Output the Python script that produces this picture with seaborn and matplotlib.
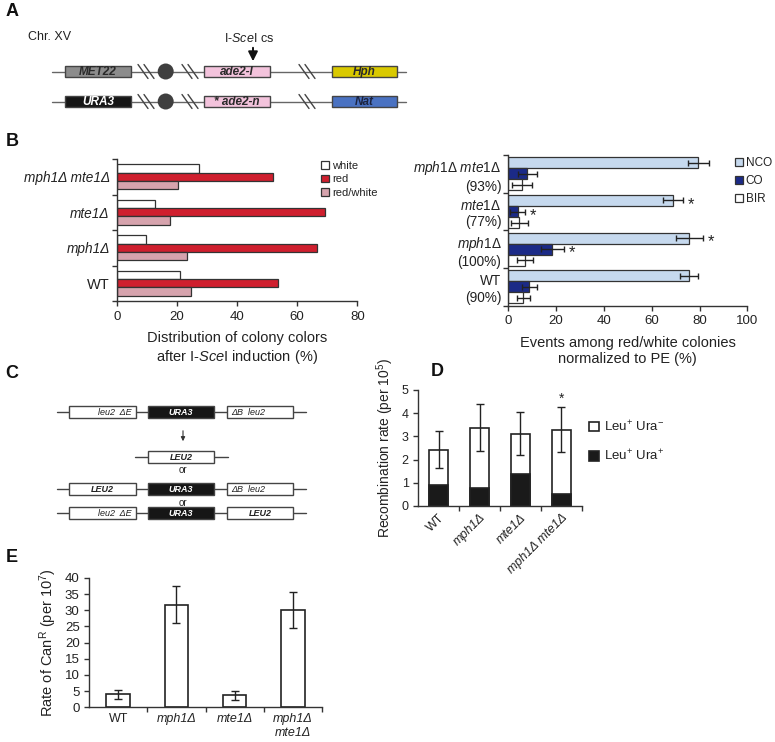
import numpy as np
import pandas as pd
import matplotlib
matplotlib.use("Agg")
import matplotlib.pyplot as plt
import seaborn as sns
from matplotlib.patches import Patch, Rectangle, Circle

# --- panel B (left): colony colours after I-SceI induction (%) ---
b_genotypes = ["mph1Δ mte1Δ", "mte1Δ", "mph1Δ", "WT"]
b_colour_names = ["white", "red", "red/white"]
b_white = [27.2, 12.9, 9.9, 21.1]
b_red = [52.1, 69.3, 66.5, 53.7]
b_redwhite = [20.3, 17.8, 23.4, 24.7]

# --- panel B (right): events among red/white colonies (%) ---
pe_values = ["93%", "77%", "100%", "90%"]
event_names = ["NCO", "CO", "BIR"]
nco = [79.5, 68.9, 75.7, 75.7]
nco_err = [4.5, 4.3, 5.6, 3.8]
co = [8.0, 3.9, 18.4, 8.8]
co_err = [4.0, 3.2, 4.7, 3.2]
bir = [5.9, 4.6, 7.1, 6.3]
bir_err = [4.2, 3.5, 3.4, 2.6]
event_stars = [("NCO", "mte1Δ"), ("CO", "mte1Δ"), ("NCO", "mph1Δ"), ("CO", "mph1Δ")]

# --- panel D: recombination rate (per 10^5) ---
d_genotypes = ["WT", "mph1Δ", "mte1Δ", "mph1Δ mte1Δ"]
rec_total = [2.42, 3.38, 3.12, 3.28]
rec_total_err = [0.80, 1.03, 0.92, 0.97]
rec_ura_plus = [0.90, 0.76, 1.36, 0.52]
d_star = "mph1Δ mte1Δ"

# --- panel E: rate of CanR (per 10^7) ---
e_genotypes = ["WT", "mph1Δ", "mte1Δ", "mph1Δ\nmte1Δ"]
can_rate = [4.0, 31.8, 3.7, 30.2]
can_err = [1.4, 5.8, 1.3, 5.6]

INK = "#222222"
EDGE = "#333333"

sns.set_style("ticks")
plt.rcParams["font.family"] = ["Liberation Sans", "DejaVu Sans"]
plt.rcParams["mathtext.fontset"] = "custom"
plt.rcParams["mathtext.rm"] = "Liberation Sans"
plt.rcParams["mathtext.it"] = "Liberation Sans:italic"
plt.rcParams["mathtext.bf"] = "Liberation Sans:bold"
plt.rcParams["text.color"] = INK
plt.rcParams["axes.labelcolor"] = INK
plt.rcParams["axes.edgecolor"] = EDGE
plt.rcParams["axes.linewidth"] = 1.0
plt.rcParams["xtick.color"] = EDGE
plt.rcParams["ytick.color"] = EDGE
plt.rcParams["xtick.labelcolor"] = INK
plt.rcParams["ytick.labelcolor"] = INK

W, H = 775, 742
fig = plt.figure(figsize=(W / 100, H / 100), dpi=100)


def px_axes(x0, y0, x1, y1):
    return fig.add_axes([x0 / W, 1 - y1 / H, (x1 - x0) / W, (y1 - y0) / H])


def style_axes(ax):
    sns.despine(ax=ax)
    ax.tick_params(which="major", length=3.5, width=1.0, direction="out")


def cat_ticks(ax, axis, labels, **kw):
    n = len(labels)
    if axis == "y":
        ax.set_yticks(np.arange(-0.5, n), [""] * (n + 1))
        ax.set_yticks(np.arange(n), labels, minor=True, **kw)
        ax.tick_params(axis="y", which="minor", length=0, pad=5)
    else:
        ax.set_xticks(np.arange(0.5, n), [""] * n)
        ax.set_xticks(np.arange(n), labels, minor=True, **kw)
        ax.tick_params(axis="x", which="minor", length=0, pad=4)


# ---------------- schematic layer (panels A and C, panel letters) -------------
dia = fig.add_axes([0, 0, 1, 1])
dia.set_xlim(0, W)
dia.set_ylim(H, 0)
dia.axis("off")


def gene(x0, x1, y, label, fc, tc=INK, h=11, size=8, weight="bold", ha="center"):
    dia.add_patch(Rectangle((x0, y - h / 2), x1 - x0, h, fc=fc, ec="#444444", lw=1, zorder=3))
    tx = {"center": (x0 + x1) / 2, "right": x1 - 4, "left": x0 + 4}[ha]
    dia.text(tx, y + 0.5, label, ha=ha, va="center", fontsize=size, fontstyle="italic",
             fontweight=weight, color=tc, zorder=4)


def brk(x, y):
    for dx in (-3, 3):
        dia.plot([x + dx - 5, x + dx + 5], [y - 7, y + 7], color="#444444", lw=1, zorder=4)


for lbl, (lx, ly) in zip("ABCDE", [(12, 11), (12, 142), (12, 374), (437, 372), (12, 557)]):
    dia.text(lx, ly, lbl, fontsize=13, fontweight="bold", ha="center", va="center", color="#111111")

# panel A
dia.text(28, 37, "Chr. XV", fontsize=9, va="center")
dia.text(249, 39, r"I-$\mathit{Sce}$I cs", fontsize=9, va="center", ha="center")
dia.annotate("", xy=(253, 64), xytext=(253, 45),
             arrowprops=dict(arrowstyle="-|>", color="#111111", lw=1.4, mutation_scale=14))
for y, genes in [(71.5, [("MET22", "#8c8c8c", "#2a2a2a"), ("ade2-I", "#f3c3dc", "#2a2a2a"),
                         ("Hph", "#d9c900", "#2a2a2a")]),
                 (101.5, [("URA3", "#161616", "white"), ("* ade2-n", "#f3c3dc", "#2a2a2a"),
                          ("Nat", "#4a72c2", "#1c2440")])]:
    dia.plot([52, 406], [y, y], color="#666666", lw=1, zorder=1)
    for (name, fc, tc), (x0, x1) in zip(genes, [(65, 131), (204, 270), (332, 397)]):
        gene(x0, x1, y, name, fc, tc, size=8.5)
    dia.add_patch(Circle((165.7, y), 8, fc="#3f3f3f", ec="none", zorder=3))
    for bx in (146, 190, 307):
        brk(bx, y)

# panel C
c_rows = [
    (412, [("leu2  ΔE", "white", INK, "normal", "right"), ("URA3", "#161616", "white", "bold", "center"),
           ("ΔB  leu2", "white", INK, "normal", "left")]),
    (489, [("LEU2", "white", INK, "bold", "center"), ("URA3", "#161616", "white", "bold", "center"),
           ("ΔB  leu2", "white", INK, "normal", "left")]),
    (513, [("leu2  ΔE", "white", INK, "normal", "right"), ("URA3", "#161616", "white", "bold", "center"),
           ("LEU2", "white", INK, "bold", "center")]),
]
for y, boxes in c_rows:
    dia.plot([57, 306], [y, y], color="#444444", lw=1, zorder=1)
    for (name, fc, tc, wt, ha), (x0, x1) in zip(boxes, [(69, 136), (148, 214), (227, 293)]):
        gene(x0, x1, y, name, fc, tc, h=12, size=6.5, weight=wt, ha=ha)
dia.plot([135, 228], [457, 457], color="#444444", lw=1, zorder=1)
gene(148, 214, 457, "LEU2", "white", INK, h=12, size=6.5)
dia.annotate("", xy=(183, 444), xytext=(183, 428),
             arrowprops=dict(arrowstyle="-|>", color="#333333", lw=0.8, mutation_scale=6))
for oy in (470, 503):
    dia.text(183, oy, "or", fontsize=7, ha="center", va="center")

# ---------------- panel B left ----------------
axB1 = px_axes(116.7, 159, 357.3, 301)
dfB1 = pd.DataFrame({
    "genotype": b_genotypes * 3,
    "colour": np.repeat(b_colour_names, len(b_genotypes)),
    "pct": b_white + b_red + b_redwhite,
})
b_palette = ["#ffffff", "#cf1f2e", "#d6a3ad"]
sns.barplot(data=dfB1, x="pct", y="genotype", hue="colour", order=b_genotypes,
            hue_order=b_colour_names, palette=b_palette, orient="h", width=0.7,
            saturation=1, edgecolor=EDGE, linewidth=0.9, errorbar=None, legend=False, ax=axB1)
axB1.set_xlim(0, 80)
axB1.set_ylim(len(b_genotypes) - 0.5, -0.5)
axB1.set_xticks(range(0, 81, 20))
cat_ticks(axB1, "y", b_genotypes)
for t in axB1.get_yticklabels(minor=True):
    t.set_fontsize(9.8)
    if t.get_text() != "WT":
        t.set_fontstyle("italic")
    else:
        t.set_fontsize(10.5)
axB1.tick_params(axis="x", labelsize=9.5)
axB1.set_xlabel("Distribution of colony colors\n" + r"after I-$\mathit{Sce}$I induction (%)",
                fontsize=10.5, labelpad=6)
axB1.set_ylabel("")
style_axes(axB1)
fig.legend(handles=[Patch(fc=c, ec=EDGE, lw=0.9) for c in b_palette], labels=b_colour_names,
           loc="upper left", bbox_to_anchor=(321 / W, 1 - 161 / H), frameon=False, fontsize=8,
           handlelength=0.7, handleheight=0.7, handletextpad=0.3, labelspacing=0.3,
           borderpad=0, borderaxespad=0)

# ---------------- panel B right ----------------
axB2 = px_axes(508.3, 155, 747.3, 305.7)
dfB2 = pd.DataFrame({
    "genotype": b_genotypes * 3,
    "event": np.repeat(event_names, len(b_genotypes)),
    "pct": nco + co + bir,
})
e_palette = ["#c6d9ee", "#1b2a87", "#ffffff"]
sns.barplot(data=dfB2, x="pct", y="genotype", hue="event", order=b_genotypes,
            hue_order=event_names, palette=e_palette, orient="h", width=0.88,
            saturation=1, edgecolor=EDGE, linewidth=0.9, errorbar=None, legend=False, ax=axB2)
for cont, vals, errs, name in zip(axB2.containers, [nco, co, bir], [nco_err, co_err, bir_err],
                                  event_names):
    ys = [b.get_y() + b.get_height() / 2 for b in cont]
    axB2.errorbar(vals, ys, xerr=errs, fmt="none", ecolor=INK, elinewidth=1,
                  capsize=2.5, capthick=1, zorder=5)
    for ev, geno in event_stars:
        if ev == name:
            i = b_genotypes.index(geno)
            axB2.text(vals[i] + errs[i] + 2, ys[i] + 0.1, "*", fontsize=12, ha="left", va="center")
axB2.set_xlim(0, 100)
axB2.set_ylim(len(b_genotypes) - 0.5, -0.5)
axB2.set_xticks(range(0, 101, 20))
b2_labels = []
for g, p in zip(b_genotypes, pe_values):
    if g == "WT":
        b2_labels.append(f"WT\n({p})")
    else:
        b2_labels.append(r"$\mathit{" + g.replace(" ", r"\ ") + "}$" + f"\n({p})")
cat_ticks(axB2, "y", b2_labels, fontsize=9.8, linespacing=1.2)
axB2.tick_params(axis="x", labelsize=9.5)
axB2.set_xlabel("Events among red/white colonies\nnormalized to PE (%)", fontsize=10.5, labelpad=6)
axB2.set_ylabel("")
style_axes(axB2)
fig.legend(handles=[Patch(fc=c, ec=EDGE, lw=0.9) for c in e_palette], labels=event_names,
           loc="upper left", bbox_to_anchor=(735 / W, 1 - 157 / H), frameon=False, fontsize=8.5,
           handlelength=0.7, handleheight=0.7, handletextpad=0.2, labelspacing=0.5,
           borderpad=0, borderaxespad=0)

# ---------------- panel D ----------------
axD = px_axes(418.3, 390, 581.7, 506)
dfD = pd.DataFrame({"genotype": d_genotypes, "total": rec_total, "ura_plus": rec_ura_plus})
sns.barplot(data=dfD, x="genotype", y="total", order=d_genotypes, color="white", saturation=1,
            edgecolor=INK, linewidth=1.2, width=0.47, errorbar=None, ax=axD)
sns.barplot(data=dfD, x="genotype", y="ura_plus", order=d_genotypes, color="#1a1a1a",
            saturation=1, edgecolor=INK, linewidth=1.2, width=0.47, errorbar=None, ax=axD)
xs = [b.get_x() + b.get_width() / 2 for b in axD.containers[0]]
axD.errorbar(xs, rec_total, yerr=rec_total_err, fmt="none", ecolor=INK, elinewidth=1,
             capsize=3, capthick=1, zorder=5)
si = d_genotypes.index(d_star)
axD.text(xs[si], rec_total[si] + rec_total_err[si] + 0.05, "*", fontsize=10, ha="center", va="bottom")
axD.set_ylim(0, 5)
axD.set_xlim(-0.5, len(d_genotypes) - 0.5)
axD.set_yticks(range(0, 6))
cat_ticks(axD, "x", d_genotypes, rotation=45, ha="right", rotation_mode="anchor")
for t in axD.get_xticklabels(minor=True):
    t.set_fontsize(9)
    if t.get_text() != "WT":
        t.set_fontstyle("italic")
axD.tick_params(axis="y", labelsize=9)
axD.set_xlabel("")
axD.set_ylabel(r"Recombination rate (per 10$^{5}$)", fontsize=10, labelpad=4)
style_axes(axD)
fig.legend(handles=[Patch(fc="white", ec=INK, lw=1.2), Patch(fc="#1a1a1a", ec=INK, lw=1.2)],
           labels=[r"Leu$^{+}$ Ura$^{-}$", r"Leu$^{+}$ Ura$^{+}$"],
           loc="upper left", bbox_to_anchor=(589 / W, 1 - 419 / H), frameon=False, fontsize=9.5,
           handlelength=0.75, handleheight=0.75, handletextpad=0.4, labelspacing=1.1,
           borderpad=0, borderaxespad=0)

# ---------------- panel E ----------------
axE = px_axes(89.3, 578, 321.7, 707.3)
dfE = pd.DataFrame({"genotype": e_genotypes, "rate": can_rate})
sns.barplot(data=dfE, x="genotype", y="rate", order=e_genotypes, color="white", saturation=1,
            edgecolor=INK, linewidth=1.2, width=0.41, errorbar=None, ax=axE)
xs = [b.get_x() + b.get_width() / 2 for b in axE.containers[0]]
axE.errorbar(xs, can_rate, yerr=can_err, fmt="none", ecolor=INK, elinewidth=1,
             capsize=3, capthick=1, zorder=5)
axE.set_ylim(0, 40)
axE.set_xlim(-0.5, len(e_genotypes) - 0.5)
axE.set_yticks(range(0, 41, 5))
cat_ticks(axE, "x", e_genotypes)
for t in axE.get_xticklabels(minor=True):
    t.set_fontsize(9)
    if t.get_text() != "WT":
        t.set_fontstyle("italic")
axE.tick_params(axis="y", labelsize=9.5)
axE.set_xlabel("")
axE.set_ylabel(r"Rate of Can$^{\mathrm{R}}$ (per 10$^{7}$)", fontsize=10.5, labelpad=4)
style_axes(axE)

fig.savefig("out.png", dpi=100)
